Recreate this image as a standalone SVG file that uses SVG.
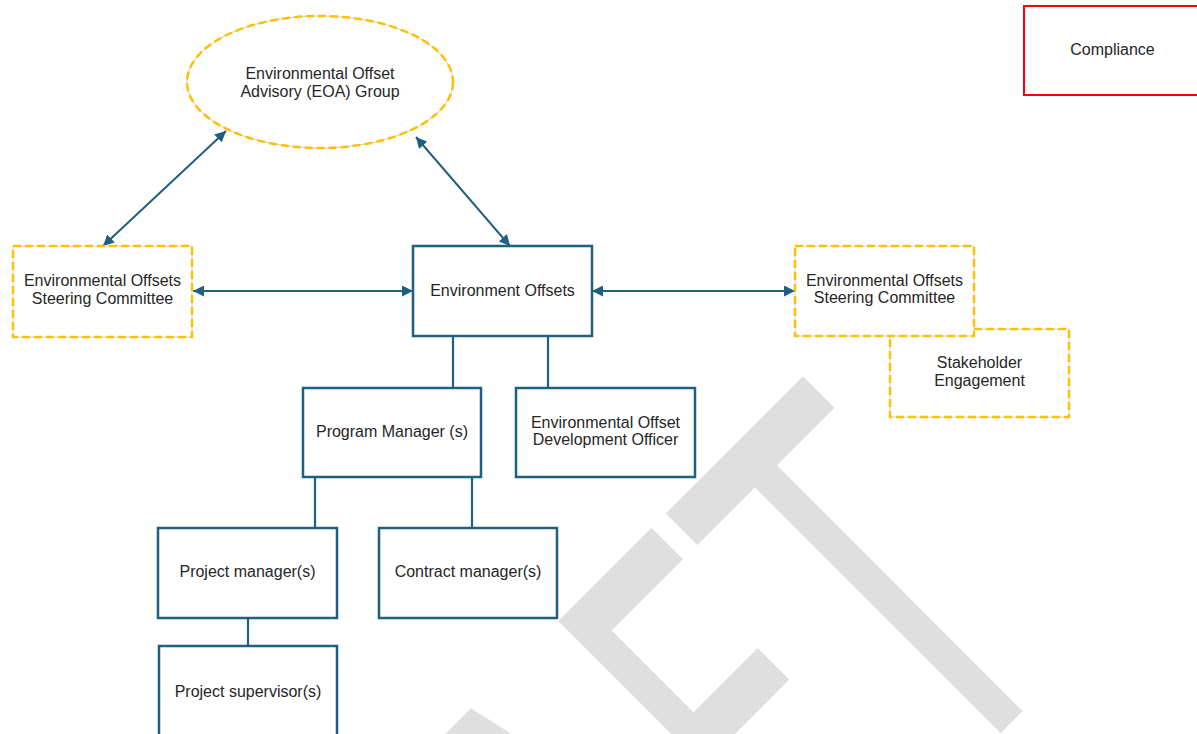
<svg xmlns="http://www.w3.org/2000/svg" width="1197" height="734" viewBox="0 0 1197 734">
<defs>
<style>
text{font-family:"Liberation Sans",Arial,sans-serif;font-size:16px;fill:#262626;text-anchor:middle}
.box{fill:#fff;stroke:#1f5f7f;stroke-width:2.5}
.dash-under{fill:#fff;stroke:#cfcfcf;stroke-width:1}
.dash{fill:none;stroke:#ffc000;stroke-width:2.5;stroke-dasharray:8 4}
.red{fill:#fff;stroke:#ff0000;stroke-width:2}
.conn{fill:none;stroke:#1f5f7f;stroke-width:2.2}
.arr{fill:none;stroke:#1f5f7f;stroke-width:2;marker-start:url(#ah);marker-end:url(#ah)}
.wm{font-family:"DejaVu Sans",sans-serif;font-size:538px;fill:#dfdfdf;text-anchor:middle}
</style>
<marker id="ah" viewBox="0 0 10 10" refX="10" refY="5" markerWidth="5.5" markerHeight="5.5" orient="auto-start-reverse" markerUnits="strokeWidth">
<path d="M0,0 L10,5 L0,10 z" fill="#1f5f7f"/>
</marker>
</defs>
<rect width="1197" height="734" fill="#fff"/>

<g id="watermark" transform="rotate(-45) translate(0,1226) scale(0.585,1)">
<text class="wm"><tspan x="-1080">D</tspan><tspan x="-686">R</tspan><tspan x="-317">A</tspan><tspan x="26">F</tspan><tspan x="350">T</tspan></text>
</g>

<g id="connectors">
<line class="arr" x1="226" y1="131" x2="103" y2="246"/>
<line class="arr" x1="416" y1="137" x2="510" y2="246"/>
<line class="arr" x1="193" y1="291" x2="413" y2="291"/>
<line class="arr" x1="592" y1="291" x2="795" y2="291"/>
<line class="conn" x1="453" y1="336" x2="453" y2="388"/>
<line class="conn" x1="548" y1="336" x2="548" y2="388"/>
<line class="conn" x1="315" y1="477" x2="315" y2="528"/>
<line class="conn" x1="472" y1="477" x2="472" y2="528"/>
<line class="conn" x1="248" y1="618" x2="248" y2="646"/>
</g>

<g id="eoa-group">
<ellipse class="dash-under" cx="320" cy="82" rx="133" ry="66"/>
<ellipse class="dash" cx="320" cy="82" rx="133" ry="66"/>
<text x="320" y="79">Environmental Offset</text>
<text x="320" y="97">Advisory (EOA) Group</text>
</g>

<g id="steering-left">
<rect class="dash-under" x="13" y="246" width="179" height="91"/>
<rect class="dash" x="13" y="246" width="179" height="91"/>
<text x="102.5" y="286">Environmental Offsets</text>
<text x="102.5" y="304">Steering Committee</text>
</g>

<g id="environment-offsets">
<rect class="box" x="413" y="246" width="179" height="90"/>
<text x="502.5" y="296">Environment Offsets</text>
</g>

<g id="stakeholder-engagement">
<rect class="dash-under" x="890" y="329" width="179" height="88"/>
<rect class="dash" x="890" y="329" width="179" height="88"/>
<text x="979.5" y="368">Stakeholder</text>
<text x="979.5" y="386">Engagement</text>
</g>

<g id="steering-right">
<rect class="dash-under" x="795" y="246" width="179" height="90"/>
<rect class="dash" x="795" y="246" width="179" height="90"/>
<text x="884.5" y="286">Environmental Offsets</text>
<text x="884.5" y="303">Steering Committee</text>
</g>

<g id="compliance">
<rect class="red" x="1024" y="6" width="178" height="89"/>
<text x="1112.5" y="55">Compliance</text>
</g>

<g id="program-manager">
<rect class="box" x="303" y="388" width="178" height="89"/>
<text x="392" y="437">Program Manager (s)</text>
</g>

<g id="development-officer">
<rect class="box" x="516" y="388" width="179" height="89"/>
<text x="605.5" y="428">Environmental Offset</text>
<text x="605.5" y="445">Development Officer</text>
</g>

<g id="project-manager">
<rect class="box" x="158" y="528" width="179" height="90"/>
<text x="247.5" y="577">Project manager(s)</text>
</g>

<g id="contract-manager">
<rect class="box" x="379" y="528" width="178" height="90"/>
<text x="468" y="577">Contract manager(s)</text>
</g>

<g id="project-supervisor">
<rect class="box" x="159" y="646" width="178" height="92"/>
<text x="248" y="697">Project supervisor(s)</text>
</g>
</svg>
